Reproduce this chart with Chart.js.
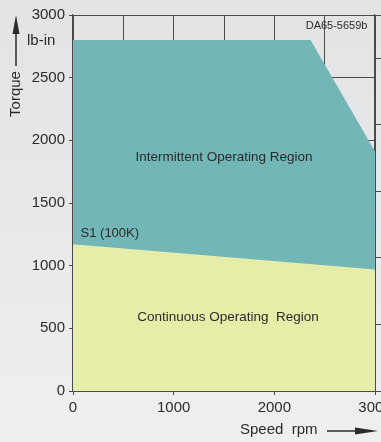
<!DOCTYPE html>
<html>
<head>
<meta charset="utf-8">
<script src="https://cdn.jsdelivr.net/npm/chart.js@4"></script>
<style>
  html, body { margin: 0; padding: 0; overflow: hidden; }
  body { width: 381px; height: 442px; background: linear-gradient(#e2e3e5, #efefef); }
  canvas { display: block; }
</style>
</head>
<body>
<canvas id="torqueChart" width="381" height="442"></canvas>
<script>
// speed / torque envelope (lb-in vs rpm)
const intermittentSpeed = [0, 2360, 3000];
const intermittentTorque = [2800, 2800, 1910];
const continuousSpeed = [0, 3000];
const continuousTorque = [1170, 970];

const speedTicks = [0, 1000, 2000, 3000];
const torqueTicks = [0, 500, 1000, 1500, 2000, 2500, 3000];
const LB_IN_PER_NM = 8.8507;

const FONT = "'Liberation Sans', Arial, sans-serif";
const INK = "#2b2b2b";
const GRID = "#4a4a4a";

function toPoints(xs, ys) {
  return xs.map((x, i) => ({ x: x, y: ys[i] }));
}

// fixed axis sizes so the plot box sits where it should
function fixSize(prop, size) {
  return scale => {
    scale[prop] = size;
    scale.paddingLeft = 0;
    scale.paddingRight = 0;
    scale.paddingTop = 0;
    scale.paddingBottom = 0;
  };
}

// region labels, axis captions and arrows
const labelsPlugin = {
  id: "regionLabels",
  afterDatasetsDraw(chart) {
    const { ctx, scales: { x, y } } = chart;
    ctx.save();
    ctx.fillStyle = INK;
    ctx.textBaseline = "middle";

    ctx.font = "13.5px " + FONT;
    ctx.textAlign = "center";
    ctx.fillText("Intermittent Operating Region", x.getPixelForValue(1500), y.getPixelForValue(1865));
    ctx.fillText("Continuous Operating  Region", x.getPixelForValue(1540), y.getPixelForValue(590));
    ctx.font = "13px " + FONT;
    ctx.textAlign = "left";
    ctx.fillText("S1 (100K)", x.getPixelForValue(75), y.getPixelForValue(1260));

    ctx.font = "11px " + FONT;
    ctx.textAlign = "right";
    ctx.fillText("DA65-5659b", x.getPixelForValue(2925), y.getPixelForValue(2910));
    ctx.restore();
  },
  afterDraw(chart) {
    const { ctx } = chart;
    ctx.save();
    ctx.fillStyle = INK;
    ctx.strokeStyle = INK;
    ctx.font = "15px " + FONT;
    ctx.textBaseline = "middle";

    // y caption: rotated "Torque" with an arrow pointing up
    ctx.save();
    ctx.translate(16, 94);
    ctx.rotate(-Math.PI / 2);
    ctx.textAlign = "center";
    ctx.fillText("Torque", 0, 0);
    ctx.restore();
    ctx.lineWidth = 1.5;
    ctx.beginPath();
    ctx.moveTo(16, 66);
    ctx.lineTo(16, 28);
    ctx.stroke();
    ctx.beginPath();
    ctx.moveTo(16, 15);
    ctx.lineTo(12.5, 34);
    ctx.lineTo(19.5, 34);
    ctx.closePath();
    ctx.fill();

    ctx.textAlign = "left";
    ctx.fillText("lb-in", 27, 41);

    // x caption with arrow pointing right
    ctx.fillText("Speed  rpm", 240, 430);
    ctx.beginPath();
    ctx.moveTo(327, 431);
    ctx.lineTo(362, 431);
    ctx.stroke();
    ctx.beginPath();
    ctx.moveTo(378, 431);
    ctx.lineTo(355, 427.5);
    ctx.lineTo(355, 434.5);
    ctx.closePath();
    ctx.fill();
    ctx.restore();
  }
};

new Chart(document.getElementById("torqueChart"), {
  type: "line",
  data: {
    datasets: [
      {
        label: "Continuous",
        data: toPoints(continuousSpeed, continuousTorque),
        borderWidth: 0,
        pointRadius: 0,
        backgroundColor: "#e6eda9",
        fill: "origin",
        order: 0
      },
      {
        label: "Intermittent",
        data: toPoints(intermittentSpeed, intermittentTorque),
        borderWidth: 0,
        pointRadius: 0,
        backgroundColor: "#72b6b7",
        fill: "origin",
        order: 1
      }
    ]
  },
  options: {
    responsive: false,
    animation: false,
    devicePixelRatio: 1,
    layout: { padding: { top: 15, left: 0, right: 0, bottom: 0 } },
    plugins: { legend: { display: false }, tooltip: { enabled: false } },
    scales: {
      x: {
        type: "linear",
        min: speedTicks[0],
        max: speedTicks[speedTicks.length - 1],
        afterFit: fixSize("height", 51),
        border: { color: GRID, width: 1.2 },
        grid: {
          color: GRID,
          lineWidth: 1,
          tickLength: 4,
          tickColor: c => (speedTicks.includes(c.tick.value) ? GRID : "transparent")
        },
        ticks: {
          stepSize: 500,
          autoSkip: false,
          maxRotation: 0,
          padding: 4,
          color: INK,
          font: { family: FONT, size: 15 },
          callback: v => (speedTicks.includes(v) ? String(v) : "")
        }
      },
      y: {
        type: "linear",
        position: "left",
        min: torqueTicks[0],
        max: torqueTicks[torqueTicks.length - 1],
        afterFit: fixSize("width", 73),
        border: { color: GRID, width: 1.2 },
        grid: { color: GRID, lineWidth: 1, tickLength: 4 },
        ticks: {
          stepSize: 500,
          padding: 4,
          color: INK,
          font: { family: FONT, size: 15 },
          callback: v => String(v)
        }
      },
      nm: {
        type: "linear",
        position: "right",
        min: 0,
        max: torqueTicks[torqueTicks.length - 1] / LB_IN_PER_NM,
        afterFit: fixSize("width", 6),
        border: { color: GRID, width: 1.2 },
        grid: { drawOnChartArea: false, color: GRID, tickLength: 6 },
        ticks: { stepSize: 60, display: false }
      }
    }
  },
  plugins: [labelsPlugin]
});
</script>
</body>
</html>
